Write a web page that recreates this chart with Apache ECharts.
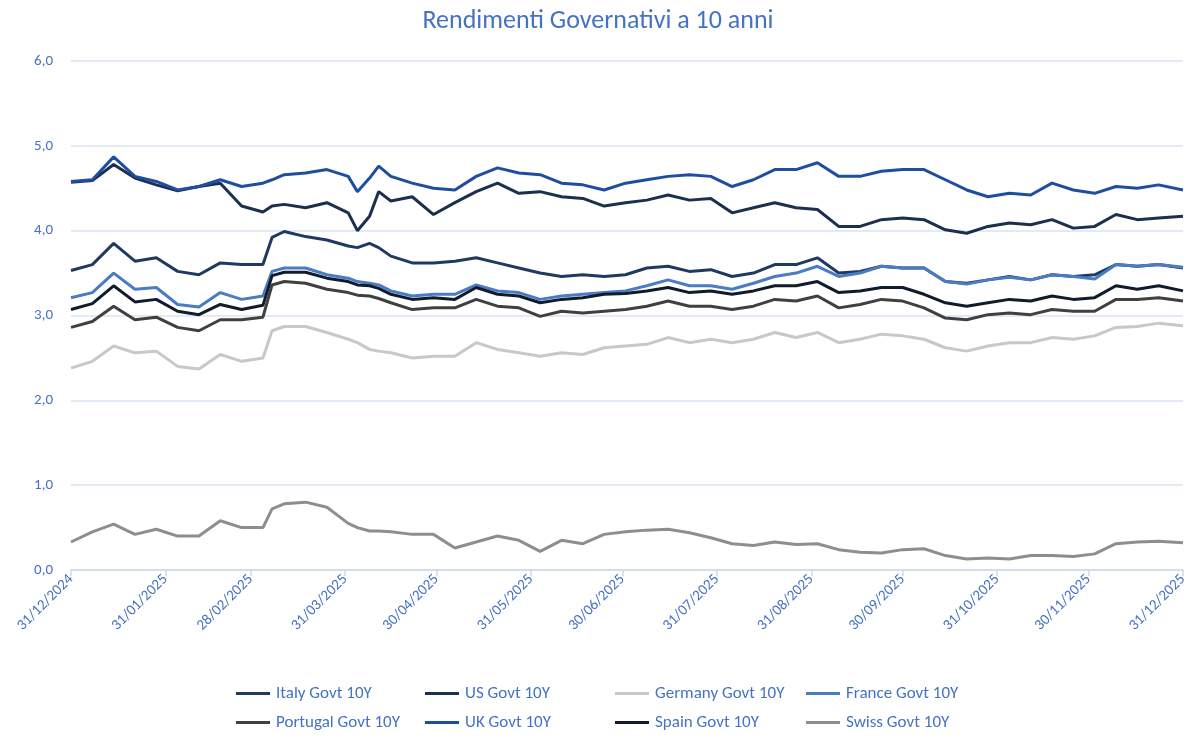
<!DOCTYPE html>
<html>
<head>
<meta charset="utf-8">
<script src="https://cdn.jsdelivr.net/npm/echarts@6/dist/echarts.min.js"></script>
<style>
  html, body { margin: 0; padding: 0; background: #fff; }
  #chart { width: 1196px; height: 740px; }
</style>
</head>
<body>
<div id="chart"></div>
<script>
// date di rilevazione (circa settimanali, con qualche punto in più sui movimenti bruschi)
const dates = [
  '2024-12-31', '2025-01-07', '2025-01-14', '2025-01-21', '2025-01-28', '2025-02-04', '2025-02-11',
  '2025-02-18', '2025-02-25', '2025-03-04', '2025-03-07', '2025-03-11', '2025-03-18', '2025-03-25',
  '2025-04-01', '2025-04-04', '2025-04-08', '2025-04-11', '2025-04-15', '2025-04-22', '2025-04-29',
  '2025-05-06', '2025-05-13', '2025-05-20', '2025-05-27', '2025-06-03', '2025-06-10', '2025-06-17',
  '2025-06-24', '2025-07-01', '2025-07-08', '2025-07-15', '2025-07-22', '2025-07-29', '2025-08-05',
  '2025-08-12', '2025-08-19', '2025-08-26', '2025-09-02', '2025-09-09', '2025-09-16', '2025-09-23',
  '2025-09-30', '2025-10-07', '2025-10-14', '2025-10-21', '2025-10-28', '2025-11-04', '2025-11-11',
  '2025-11-18', '2025-11-25', '2025-12-02', '2025-12-09', '2025-12-16', '2025-12-23', '2025-12-31'
];

const italy = [3.53, 3.60, 3.85, 3.64, 3.68, 3.52, 3.48, 3.62, 3.60, 3.60, 3.92, 3.99, 3.93, 3.89,
  3.82, 3.80, 3.85, 3.80, 3.70, 3.62, 3.62, 3.64, 3.68, 3.62, 3.56, 3.50, 3.46, 3.48,
  3.46, 3.48, 3.56, 3.58, 3.52, 3.54, 3.46, 3.50, 3.60, 3.60, 3.68, 3.50, 3.52, 3.58,
  3.56, 3.56, 3.40, 3.38, 3.42, 3.46, 3.42, 3.48, 3.46, 3.48, 3.60, 3.58, 3.60, 3.56];
const us = [4.57, 4.59, 4.78, 4.62, 4.54, 4.47, 4.52, 4.56, 4.29, 4.22, 4.29, 4.31, 4.27, 4.33,
  4.21, 4.00, 4.17, 4.46, 4.35, 4.40, 4.19, 4.33, 4.46, 4.56, 4.44, 4.46, 4.40, 4.38,
  4.29, 4.33, 4.36, 4.42, 4.36, 4.38, 4.21, 4.27, 4.33, 4.27, 4.25, 4.05, 4.05, 4.13,
  4.15, 4.13, 4.01, 3.97, 4.05, 4.09, 4.07, 4.13, 4.03, 4.05, 4.19, 4.13, 4.15, 4.17];
const germany = [2.38, 2.46, 2.64, 2.56, 2.58, 2.40, 2.37, 2.54, 2.46, 2.50, 2.82, 2.87, 2.87, 2.80,
  2.72, 2.68, 2.60, 2.58, 2.56, 2.50, 2.52, 2.52, 2.68, 2.60, 2.56, 2.52, 2.56, 2.54,
  2.62, 2.64, 2.66, 2.74, 2.68, 2.72, 2.68, 2.72, 2.80, 2.74, 2.80, 2.68, 2.72, 2.78,
  2.76, 2.72, 2.62, 2.58, 2.64, 2.68, 2.68, 2.74, 2.72, 2.76, 2.86, 2.87, 2.91, 2.88];
const france = [3.21, 3.27, 3.50, 3.31, 3.33, 3.13, 3.10, 3.27, 3.19, 3.23, 3.52, 3.56, 3.56, 3.48,
  3.44, 3.40, 3.38, 3.36, 3.29, 3.23, 3.25, 3.25, 3.36, 3.29, 3.27, 3.19, 3.23, 3.25,
  3.27, 3.29, 3.35, 3.42, 3.35, 3.35, 3.31, 3.38, 3.46, 3.50, 3.58, 3.46, 3.50, 3.58,
  3.56, 3.56, 3.40, 3.37, 3.42, 3.45, 3.42, 3.48, 3.46, 3.43, 3.60, 3.58, 3.60, 3.57];
const portugal = [2.86, 2.93, 3.11, 2.95, 2.98, 2.86, 2.82, 2.95, 2.95, 2.98, 3.36, 3.40, 3.38, 3.31,
  3.27, 3.24, 3.23, 3.20, 3.15, 3.07, 3.09, 3.09, 3.19, 3.11, 3.09, 2.99, 3.05, 3.03,
  3.05, 3.07, 3.11, 3.17, 3.11, 3.11, 3.07, 3.11, 3.19, 3.17, 3.23, 3.09, 3.13, 3.19,
  3.17, 3.09, 2.97, 2.95, 3.01, 3.03, 3.01, 3.07, 3.05, 3.05, 3.19, 3.19, 3.21, 3.17];
const uk = [4.58, 4.60, 4.87, 4.64, 4.58, 4.48, 4.52, 4.60, 4.52, 4.56, 4.60, 4.66, 4.68, 4.72,
  4.64, 4.46, 4.62, 4.76, 4.64, 4.56, 4.50, 4.48, 4.64, 4.74, 4.68, 4.66, 4.56, 4.54,
  4.48, 4.56, 4.60, 4.64, 4.66, 4.64, 4.52, 4.60, 4.72, 4.72, 4.80, 4.64, 4.64, 4.70,
  4.72, 4.72, 4.60, 4.48, 4.40, 4.44, 4.42, 4.56, 4.48, 4.44, 4.52, 4.50, 4.54, 4.48];
const spain = [3.07, 3.14, 3.35, 3.16, 3.19, 3.05, 3.01, 3.13, 3.07, 3.12, 3.47, 3.51, 3.51, 3.44,
  3.40, 3.36, 3.35, 3.32, 3.25, 3.19, 3.21, 3.19, 3.33, 3.25, 3.23, 3.15, 3.19, 3.21,
  3.25, 3.26, 3.29, 3.33, 3.27, 3.29, 3.25, 3.29, 3.35, 3.35, 3.40, 3.27, 3.29, 3.33,
  3.33, 3.25, 3.15, 3.11, 3.15, 3.19, 3.17, 3.23, 3.19, 3.21, 3.35, 3.31, 3.35, 3.29];
const swiss = [0.33, 0.45, 0.54, 0.42, 0.48, 0.40, 0.40, 0.58, 0.50, 0.50, 0.72, 0.78, 0.80, 0.74,
  0.55, 0.50, 0.46, 0.46, 0.45, 0.42, 0.42, 0.26, 0.33, 0.40, 0.35, 0.22, 0.35, 0.31,
  0.42, 0.45, 0.47, 0.48, 0.44, 0.38, 0.31, 0.29, 0.33, 0.30, 0.31, 0.24, 0.21, 0.20,
  0.24, 0.25, 0.17, 0.13, 0.14, 0.13, 0.17, 0.17, 0.16, 0.19, 0.31, 0.33, 0.34, 0.32];

// etichette asse X (fine mese)
const monthEnds = [
  '2024-12-31', '2025-01-31', '2025-02-28', '2025-03-31', '2025-04-30', '2025-05-31', '2025-06-30',
  '2025-07-31', '2025-08-31', '2025-09-30', '2025-10-31', '2025-11-30', '2025-12-31'
];

const names = ['Italy Govt 10Y', 'US Govt 10Y', 'Germany Govt 10Y', 'France Govt 10Y',
  'Portugal Govt 10Y', 'UK Govt 10Y', 'Spain Govt 10Y', 'Swiss Govt 10Y'];
const values = [italy, us, germany, france, portugal, uk, spain, swiss];
const colors = ['#1f3a60', '#1b2f4f', '#c8c8c8', '#4a7cc4', '#404040', '#1f4ea0', '#101c2c', '#8e8e8e'];

const FONT = 'Carlito, "Noto Sans", sans-serif';
const BLUE = '#4472c4';

// giorni dal 31/12/2024, usati come valore dell'asse X
const DAY = 86400000;
const START = Date.UTC(2024, 11, 31);
const toDay = s => {
  const p = s.split('-').map(Number);
  return Math.round((Date.UTC(p[0], p[1] - 1, p[2]) - START) / DAY);
};
const pad = n => (n < 10 ? '0' : '') + n;
const dayLabel = v => {
  const d = new Date(START + Math.round(v) * DAY);
  return pad(d.getUTCDate()) + '/' + pad(d.getUTCMonth() + 1) + '/' + d.getUTCFullYear();
};
const monthTicks = monthEnds.map(toDay);

const chart = echarts.init(document.getElementById('chart'));

const legendCol = (left, data) => ({
  left: left,
  top: 680,
  orient: 'vertical',
  itemGap: 12,
  itemWidth: 34,
  itemHeight: 3,
  icon: 'rect',
  textStyle: { color: BLUE, fontSize: 17, fontFamily: FONT, padding: [0, 0, 0, 1] },
  data: data
});

chart.setOption({
  animation: false,
  color: colors,
  title: {
    text: 'Rendimenti Governativi a 10 anni',
    left: 'center',
    top: 3,
    textStyle: { color: BLUE, fontSize: 26, fontWeight: 'normal', fontFamily: FONT }
  },
  grid: { left: 71, right: 13, top: 61, bottom: 170 },
  legend: [
    legendCol(231, ['Italy Govt 10Y', 'Portugal Govt 10Y']),
    legendCol(420, ['US Govt 10Y', 'UK Govt 10Y']),
    legendCol(610, ['Germany Govt 10Y', 'Spain Govt 10Y']),
    legendCol(801, ['France Govt 10Y', 'Swiss Govt 10Y'])
  ],
  xAxis: {
    type: 'value',
    min: 0,
    max: monthTicks[monthTicks.length - 1],
    axisLine: { show: true, onZero: false, lineStyle: { color: '#cdd9ec', width: 1.5 } },
    axisTick: {
      show: true, length: 6, inside: false,
      customValues: monthTicks,
      lineStyle: { color: '#cdd9ec', width: 1.5 }
    },
    splitLine: { show: false },
    axisLabel: {
      customValues: monthTicks,
      rotate: 45,
      margin: 7,
      hideOverlap: false,
      color: BLUE,
      fontSize: 15,
      fontFamily: FONT,
      formatter: dayLabel
    }
  },
  yAxis: {
    type: 'value',
    min: 0,
    max: 6,
    interval: 1,
    axisLine: { show: false },
    axisTick: { show: false },
    splitLine: { lineStyle: { color: '#d9e3f3', width: 1.5 } },
    axisLabel: {
      color: BLUE,
      fontSize: 15,
      fontFamily: FONT,
      margin: 18,
      formatter: v => v.toFixed(1).replace('.', ',')
    }
  },
  series: names.map((name, k) => ({
    name: name,
    type: 'line',
    showSymbol: false,
    symbol: 'none',
    lineStyle: { width: 3, color: colors[k] },
    itemStyle: { color: colors[k] },
    data: dates.map((d, i) => [toDay(d), values[k][i]])
  }))
});
</script>
</body>
</html>
